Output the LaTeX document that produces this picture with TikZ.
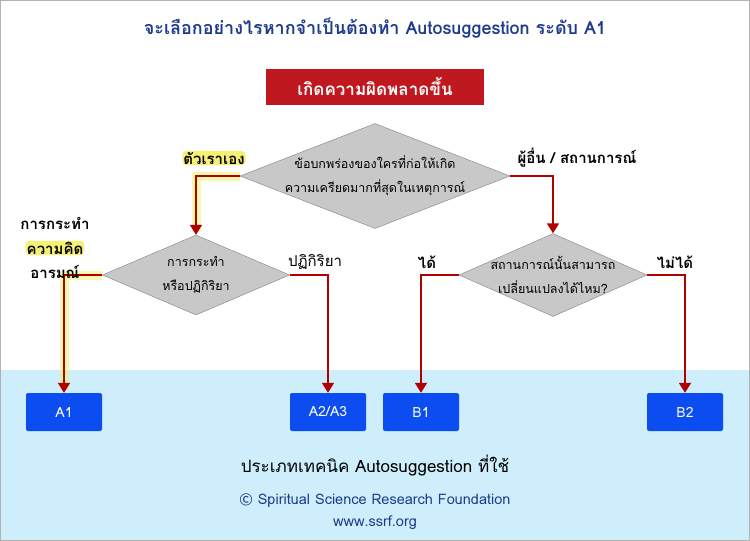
\documentclass[tikz,border=0pt]{standalone}
\usepackage{fontspec}
\setmainfont[Script=Thai]{Loma}
\usetikzlibrary{shapes.geometric,arrows.meta}
\definecolor{band}{HTML}{CDEEFA}
\definecolor{ttl}{HTML}{1F3C8C}
\definecolor{rbox}{HTML}{C0181F}
\definecolor{bbox}{HTML}{0B4DF0}
\definecolor{arr}{HTML}{B00000}
\definecolor{dia}{HTML}{C8C8C8}
\definecolor{glow}{HTML}{F5EE50}
\tikzset{
 dec/.style={diamond,aspect=#1,fill=dia,draw=gray,inner sep=0pt},
 dectext/.style={font=\fontsize{12.5}{24}\selectfont,align=center},
 outbox/.style={fill=bbox,rounded corners=2pt,minimum width=76pt,minimum height=38pt,text=white,font=\fontsize{14}{16}\selectfont},
 conn/.style={draw=arr,line width=1.8pt,-{Triangle[length=10pt,width=12pt]}},
 glowline/.style={draw=glow,line width=9pt,opacity=0.45},
 lbl/.style={font=\fontsize{15}{17}\selectfont\bfseries,inner sep=1pt},
 hl/.style={fill=glow!80,rounded corners=4pt},
}
\begin{document}
\begin{tikzpicture}[x=1pt,y=-1pt]
\useasboundingbox (0,0) rectangle (750,541);
\fill[band] (1,370) rectangle (749,540);
\draw[gray!60,line width=1pt] (0.5,0.5) rectangle (749.5,540.5);
\node[text=ttl,font=\fontsize{18}{20}\selectfont\bfseries] (title) at (375,28) {จะเลือกอย่างไรหากจำเป็นต้องทำ Autosuggestion ระดับ A1};
\node[fill=rbox,minimum width=218pt,minimum height=36pt,text=white,font=\fontsize{17}{19}\selectfont\bfseries] (start) at (375,87) {เกิดความผิดพลาดขึ้น};
\node[dec=2.57,minimum width=270pt,minimum height=105pt] (d1) at (375,176) {};
\node[dectext] (d1t) at (d1.center) {ข้อบกพร่องของใครที่ก่อให้เกิด\\ความเครียดมากที่สุดในเหตุการณ์};
\node[dec=2.34,minimum width=187pt,minimum height=80pt] (d2) at (196,275) {};
\node[dectext] (d2t) at (d2.center) {การกระทำ\\หรือปฏิกิริยา};
\node[dec=2.26,minimum width=188pt,minimum height=83pt] (d3) at (553,275) {};
\node[dectext] (d3t) at (d3.center) {สถานการณ์นั้นสามารถ\\เปลี่ยนแปลงได้ไหม?};
\node[outbox] (a1) at (64,412) {A1};
\node[outbox] (a2) at (328,412) {A2/A3};
\node[outbox] (b1) at (421,412) {B1};
\node[outbox] (b2) at (685,412) {B2};
% glow
\draw[glowline] (d1.west) -| (196,232);
\draw[glowline] (d2.west) -| (64,390);
\draw[conn] (d1.west) -| (d2.north);
\draw[conn] (d1.east) -| (d3.north);
\draw[conn] (d2.west) -| (a1.north);
\draw[conn] (d2.east) -| (a2.north);
\draw[conn] (d3.west) -| (b1.north);
\draw[conn] (d3.east) -| (b2.north);
\node[lbl,hl] (l1) at (214,158) {ตัวเราเอง};
\node[lbl] (l2) at (577,158) {ผู้อื่น / สถานการณ์};
\node[lbl] (l3) at (55,223) {การกระทำ};
\node[lbl,hl] (l4) at (55,248) {ความคิด};
\node[lbl] (l5) at (55,272) {อารมณ์};
\node[lbl,font=\fontsize{15}{17}\selectfont] (l6) at (315,262) {ปฏิกิริยา};
\node[lbl] (l7) at (427,262) {ได้};
\node[lbl] (l8) at (675,262) {ไม่ได้};
\node[text=black,font=\fontsize{17}{19}\selectfont] (t1) at (375,466) {ประเภทเทคนิค Autosuggestion ที่ใช้};
\node[text=ttl,font=\fontsize{14.5}{16}\selectfont] (t2) at (375,501) {© Spiritual Science Research Foundation};
\node[text=ttl,font=\fontsize{14.5}{16}\selectfont] (t3) at (375,523) {www.ssrf.org};
\end{tikzpicture}
\end{document}
